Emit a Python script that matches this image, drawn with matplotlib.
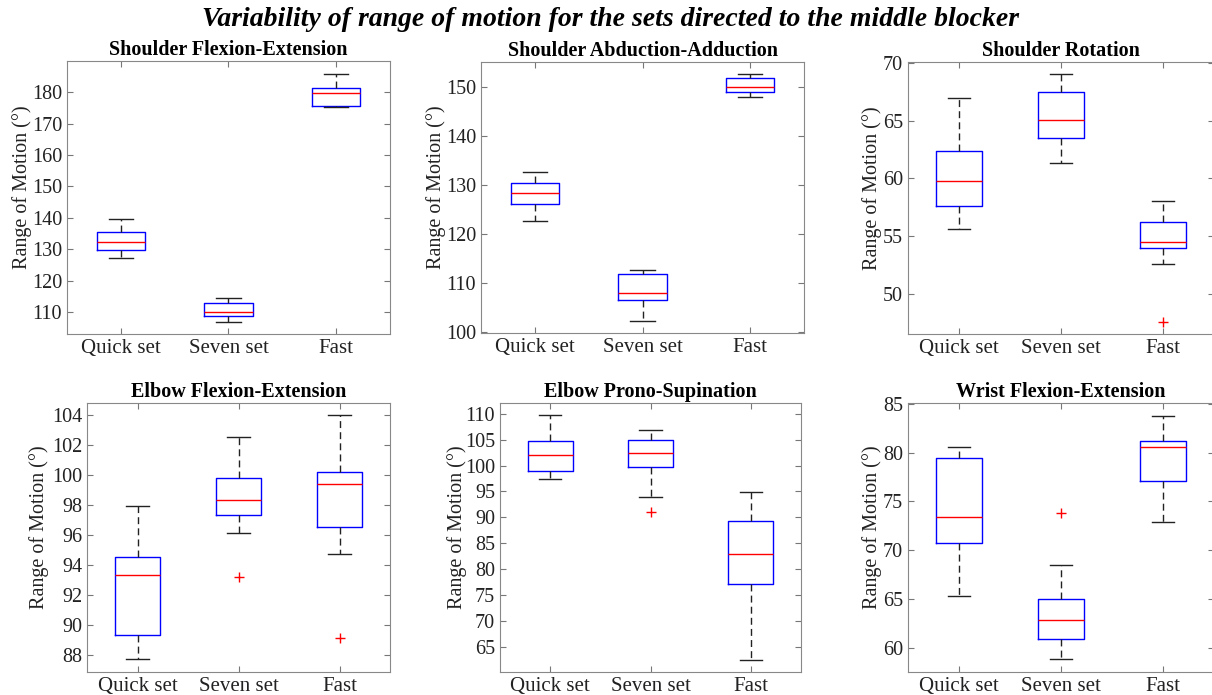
import matplotlib
matplotlib.use("Agg")
import matplotlib.pyplot as plt

plt.rcParams['font.family'] = ['Liberation Serif', 'DejaVu Serif']

W, H = 1212, 695

groups = ["Quick set", "Seven set", "Fast"]

# per joint: [whisker low, Q1, median, Q3, whisker high] for each group, plus outliers
titles = ["Shoulder Flexion-Extension", "Shoulder Abduction-Adduction", "Shoulder Rotation",
          "Elbow Flexion-Extension", "Elbow Prono-Supination", "Wrist Flexion-Extension"]

sh_flex = [[127.2, 129.9, 132.2, 135.6, 139.8],
           [107.0, 108.8, 110.1, 113.1, 114.6],
           [175.3, 175.5, 179.7, 181.4, 185.8]]
sh_flex_out = [[], [], []]

sh_abd = [[122.5, 126.0, 128.2, 130.3, 132.6],
          [102.1, 106.4, 107.9, 111.7, 112.5],
          [147.8, 148.8, 149.9, 151.8, 152.5]]
sh_abd_out = [[], [], []]

sh_rot = [[55.6, 57.6, 59.8, 62.4, 67.0],
          [61.3, 63.5, 65.1, 67.5, 69.1],
          [52.6, 54.0, 54.5, 56.2, 58.0]]
sh_rot_out = [[], [], [47.5]]

el_flex = [[87.7, 89.3, 93.3, 94.5, 97.9],
           [96.1, 97.3, 98.3, 99.8, 102.5],
           [94.7, 96.5, 99.4, 100.2, 104.0]]
el_flex_out = [[], [93.2], [89.1]]

el_pro = [[97.5, 99.0, 102.0, 104.8, 109.7],
          [94.0, 99.8, 102.4, 105.0, 106.8],
          [62.5, 77.2, 83.0, 89.3, 94.9]]
el_pro_out = [[], [91.0], []]

wr_flex = [[65.3, 70.7, 73.4, 79.5, 80.6],
           [58.8, 60.9, 62.8, 65.0, 68.5],
           [72.9, 77.1, 80.6, 81.2, 83.8]]
wr_flex_out = [[], [73.8], []]

all_stats = [sh_flex, sh_abd, sh_rot, el_flex, el_pro, wr_flex]
all_out = [sh_flex_out, sh_abd_out, sh_rot_out, el_flex_out, el_pro_out, wr_flex_out]

ylims = [(103.1, 189.9), (99.7, 155), (46.5, 70.1), (86.85, 104.8), (60.1, 112.1), (57.5, 85.1)]
yticks = [range(110, 181, 10), range(100, 151, 10), range(50, 71, 5),
          range(88, 105, 2), range(65, 111, 5), range(60, 86, 5)]

# axes boxes in pixels: left, right, top, bottom
boxes = [(67, 390, 61, 334), (481, 804, 62, 333), (908, 1214, 62, 334),
         (87, 390, 403, 672), (500, 801, 403, 672), (908, 1214, 403, 672)]
# pixel x of the y label anchor
ylab_x = [32, 446, 882, 49, 467, 882]

fig = plt.figure(figsize=(W / 100, H / 100), dpi=100)
fig.text(0.504, 0.972, "Variability of range of motion for the sets directed to the middle blocker",
         ha='center', va='center', fontsize=20, fontweight='bold', style='italic')

for i in range(6):
    l, r, t, b = boxes[i]
    ax = fig.add_axes([l / W, 1 - b / H, (r - l) / W, (b - t) / H])
    stats = []
    for g, vals in enumerate(all_stats[i]):
        stats.append(dict(whislo=vals[0], q1=vals[1], med=vals[2], q3=vals[3],
                          whishi=vals[4], fliers=all_out[i][g]))
    ax.bxp(stats, positions=[1, 2, 3], widths=0.45, capwidths=0.225,
           boxprops=dict(color='blue', lw=1),
           medianprops=dict(color='red', lw=1),
           whiskerprops=dict(color='#222222', lw=1, linestyle=(0, (5, 3))),
           capprops=dict(color='#222222', lw=1),
           flierprops=dict(marker='+', markeredgecolor='red', markersize=7, lw=0))
    ax.set_xlim(0.5, 3.5)
    ax.set_ylim(*ylims[i])
    ax.set_yticks(list(yticks[i]))
    ax.set_xticks([1, 2, 3])
    ax.set_xticklabels(groups)
    ax.tick_params(direction='in', top=True, right=True, labelsize=14.5,
                   colors='#777777', labelcolor='#222222', length=4)
    ax.tick_params(axis='x', labelsize=15)
    for s in ax.spines.values():
        s.set_color('#888888')
    ax.set_ylabel("Range of Motion (°)", fontsize=14.5, color='#222222')
    ax.yaxis.set_label_coords((ylab_x[i] - l) / (r - l), 0.5 + 10 / (b - t))
    ax.set_title(titles[i], fontsize=14.5, fontweight='bold', pad=4)

fig.savefig("out.png", dpi=100)
